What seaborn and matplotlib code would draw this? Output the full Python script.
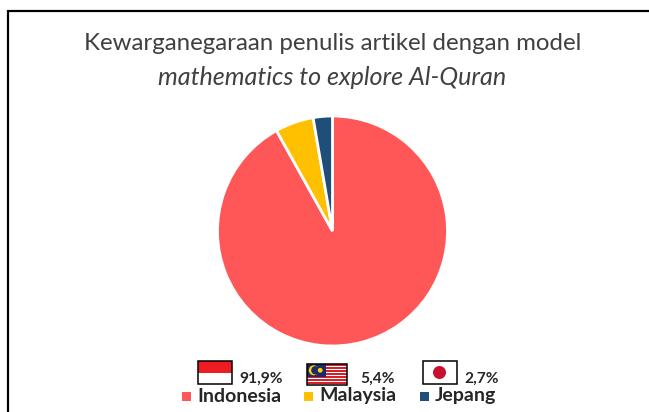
import matplotlib
matplotlib.use('Agg')
import matplotlib.pyplot as plt
from matplotlib.patches import Rectangle, Circle
import numpy as np
import seaborn as sns

countries = ['Indonesia', 'Malaysia', 'Jepang']
shares = [91.9, 5.4, 2.7]
share_labels = ['91,9%', '5,4%', '2,7%']
colors = ['#FF5757', '#FFC000', '#1F4E79']

W, H = 649, 412

sns.set_theme(style='white')
plt.rcParams['font.family'] = ['Lato', 'DejaVu Sans']

fig = plt.figure(figsize=(W / 100, H / 100), dpi=100)
bg = fig.add_axes([0, 0, 1, 1])
bg.set_xlim(0, W)
bg.set_ylim(H, 0)
bg.axis('off')

# frame, only left and top are in the crop
bg.plot([8, 8, W], [H, 10.5, 10.5], color='black', lw=1.6, solid_joinstyle='miter')

bg.text(333, 43.5, 'Kewarganegaraan penulis artikel dengan model', ha='center', va='center',
        fontsize=17.3, color='#404040')
bg.text(332, 77, 'mathematics to explore Al-Quran', ha='center', va='center',
        fontsize=18.1, color='#404040', style='italic')

# pie, centre (333, 231), radius 115
pie_ax = fig.add_axes([(332.5 - 117) / W, 1 - (231 + 117) / H, 234 / W, 234 / H])
pie_ax.pie(shares, colors=colors, startangle=90, counterclock=False, radius=115 / 117,
           wedgeprops={'edgecolor': 'white', 'linewidth': 2})
pie_ax.set_xlim(-1, 1)
pie_ax.set_ylim(-1, 1)


def draw_flag_indonesia(x, y, w, h):
    bg.add_patch(Rectangle((x, y), w, h / 2, color='#ED1C24', lw=0))
    bg.add_patch(Rectangle((x, y + h / 2), w, h / 2, color='white', lw=0))
    bg.add_patch(Rectangle((x, y), w, h, fill=False, ec='black', lw=1.1))


def draw_flag_malaysia(x, y, w, h):
    for i in range(14):
        c = '#D2232A' if i % 2 == 0 else 'white'
        bg.add_patch(Rectangle((x, y + i * h / 14), w, h / 14, color=c, lw=0))
    bg.add_patch(Rectangle((x, y), w * 0.48, h * 0.6, color='#1B2A6B', lw=0))
    bg.add_patch(Circle((x + w * 0.17, y + h * 0.3), 5, color='#FFD200', lw=0))
    bg.add_patch(Circle((x + w * 0.21, y + h * 0.3), 4.2, color='#1B2A6B', lw=0))
    bg.add_patch(Circle((x + w * 0.33, y + h * 0.3), 2.4, color='#FFD200', lw=0))
    bg.add_patch(Rectangle((x, y), w, h, fill=False, ec='black', lw=1.1))


def draw_flag_japan(x, y, w, h):
    bg.add_patch(Rectangle((x, y), w, h, fc='white', ec='black', lw=1.1))
    bg.add_patch(Circle((x + w / 2, y + h / 2), 6.5, color='#C8102E', lw=0))


draw_flag_indonesia(197.5, 361, 34, 23)
draw_flag_malaysia(307, 364, 40, 21)
draw_flag_japan(422.5, 361, 34, 23)

# percent labels
for x, lab in zip([239.5, 360.5, 464.5], share_labels):
    bg.text(x, 378.5, lab, ha='left', va='center', fontsize=11.2, fontweight='bold', color='#262626')

# legend row
for x_sq, x_txt, name, c in zip([182, 304, 420], [197.5, 319.5, 434.5], countries, colors):
    bg.add_patch(Rectangle((x_sq, 392), 8.5, 8.5, color=c, lw=0))
    bg.text(x_txt, 396, name, ha='left', va='center', fontsize=14, fontweight='bold', color='#262626')

fig.savefig('out.png', dpi=100)
